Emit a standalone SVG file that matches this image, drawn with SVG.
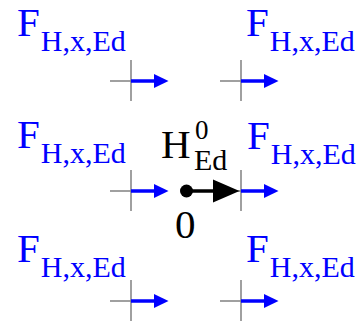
<svg xmlns="http://www.w3.org/2000/svg" width="361" height="323" viewBox="0 0 361 323">
<defs>
<style>
.lbl{font-family:"Liberation Serif","Times New Roman",serif;fill:#0000ff}
.blk{font-family:"Liberation Serif","Times New Roman",serif;fill:#000}
.big{font-size:41px}
.sub{font-size:30px}
.sup{font-size:27px}
.ax{stroke:#808080;stroke-width:1.5;fill:none}
.f{stroke:#0000ff;stroke-width:3.5;fill:none}
.fh{fill:#0000ff}
</style>
<g id="blueArrow">
<line class="f" x1="0" y1="0" x2="25" y2="0"/>
<polygon class="fh" points="23,-7 37.5,0 23,7"/>
</g>
<g id="cross">
<line class="ax" x1="-21" y1="0" x2="0" y2="0"/>
<line class="ax" x1="0" y1="-21" x2="0" y2="20"/>
</g>
</defs>
<g id="node-tl">
<use href="#cross" x="131" y="81"/>
<use href="#blueArrow" x="131" y="81"/>
<text class="lbl big" x="17" y="36">F<tspan class="sub" dx="1" dy="15">H,x,Ed</tspan></text>
</g>
<g id="node-tr">
<use href="#cross" x="241" y="81"/>
<use href="#blueArrow" x="241" y="81"/>
<text class="lbl big" x="246" y="36">F<tspan class="sub" dx="1" dy="15">H,x,Ed</tspan></text>
</g>
<g id="node-ml">
<use href="#cross" x="131" y="191"/>
<use href="#blueArrow" x="131" y="191"/>
<text class="lbl big" x="17" y="148">F<tspan class="sub" dx="1" dy="15">H,x,Ed</tspan></text>
</g>
<g id="node-mr">
<use href="#cross" x="241" y="191"/>
<use href="#blueArrow" x="241" y="191"/>
<text class="lbl big" x="247" y="149">F<tspan class="sub" dx="1" dy="15">H,x,Ed</tspan></text>
</g>
<g id="node-bl">
<use href="#cross" x="131" y="301"/>
<use href="#blueArrow" x="131" y="301"/>
<text class="lbl big" x="17" y="262">F<tspan class="sub" dx="1" dy="15">H,x,Ed</tspan></text>
</g>
<g id="node-br">
<use href="#cross" x="241" y="301"/>
<use href="#blueArrow" x="241" y="301"/>
<text class="lbl big" x="246" y="262">F<tspan class="sub" dx="1" dy="15">H,x,Ed</tspan></text>
</g>
<g id="node-H">
<circle cx="186.5" cy="191" r="6.5" fill="#000"/>
<line x1="186.5" y1="191" x2="215" y2="191" stroke="#000" stroke-width="3.5"/>
<polygon points="213,179.5 239.5,191 213,202.5" fill="#000"/>
<text class="blk big" x="161" y="158">H</text>
<text class="blk sup" x="195" y="139">0</text>
<text class="blk sub" x="194" y="170">Ed</text>
<text class="blk big" x="175" y="238">0</text>
</g>
</svg>
